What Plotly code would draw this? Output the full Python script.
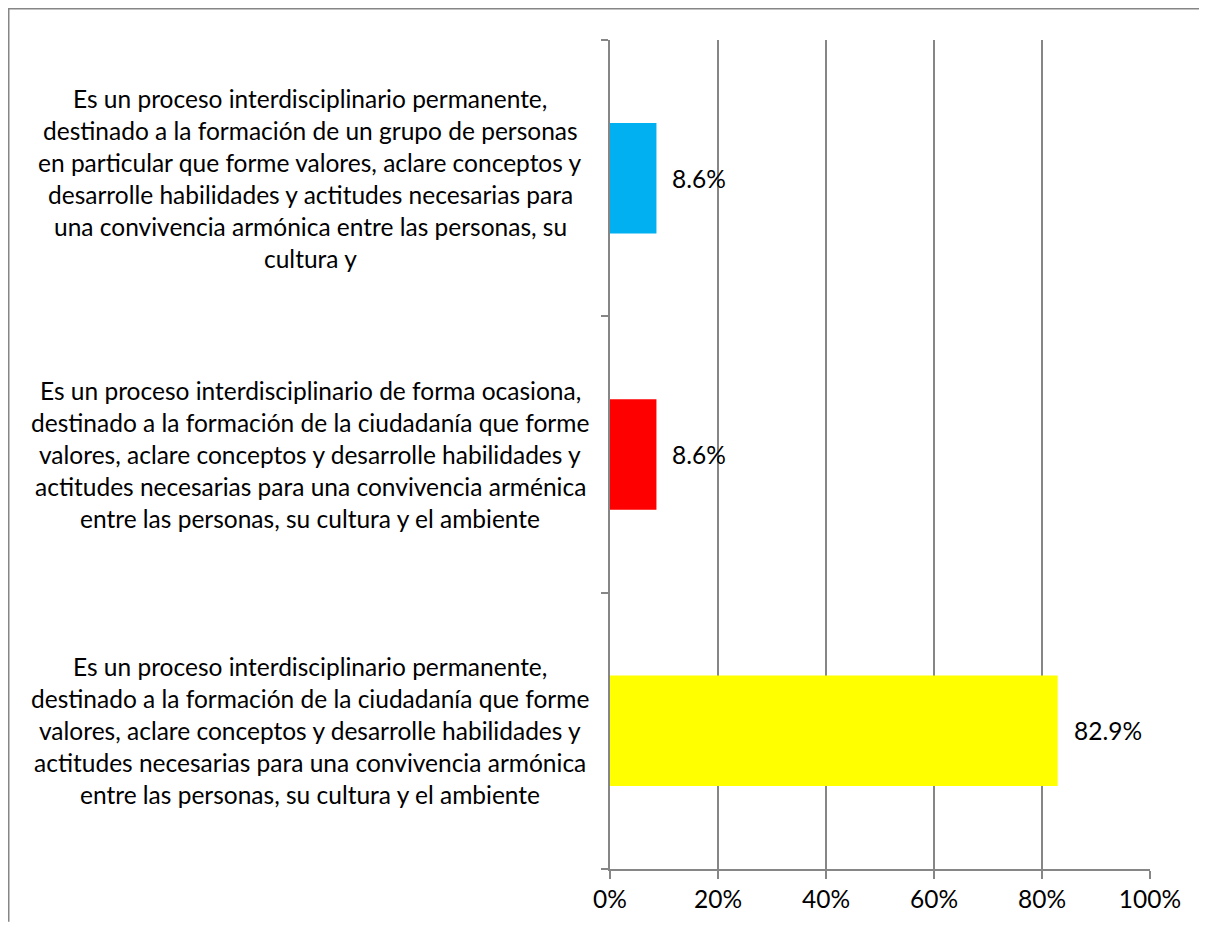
import plotly.graph_objects as go

# bottom to top, as plotly draws categories
categories = ["permanente_ciudadania", "ocasional_ciudadania", "permanente_grupo"]
values = [82.9, 8.6, 8.6]
bar_colors = ["#FFFF00", "#FF0000", "#00B0F0"]
label_lines = [
    ["Es un proceso interdisciplinario permanente,",
     "destinado a la formación de la ciudadanía que forme",
     "valores, aclare conceptos y desarrolle habilidades y",
     "actitudes necesarias para una convivencia armónica",
     "entre las personas, su cultura y el ambiente"],
    ["Es un proceso interdisciplinario de forma ocasiona,",
     "destinado a la formación de la ciudadanía que forme",
     "valores, aclare conceptos y desarrolle habilidades y",
     "actitudes necesarias para una convivencia arménica",
     "entre las personas, su cultura y el ambiente"],
    ["Es un proceso interdisciplinario permanente,",
     "destinado a la formación de un grupo de personas",
     "en particular que forme valores, aclare conceptos y",
     "desarrolle habilidades y actitudes necesarias para",
     "una convivencia armónica entre las personas, su",
     "cultura y"],
]
x_ticks = [0, 20, 40, 60, 80, 100]
x_ticklabels = ["0%", "20%", "40%", "60%", "80%", "100%"]

FONT = "Lato"
FS = 24.5
# the page body adds an 8px margin, so the figure is 8px smaller
W, H = 1199, 917
L, R, T, B = 602, 57, 32, 53
GRAY = "#868686"

fig = go.Figure()
fig.add_trace(go.Bar(
    y=categories, x=values, orientation="h",
    marker=dict(color=bar_colors, line_width=0),
    width=0.4, hoverinfo="skip",
))

annotations = []
for cat, v in zip(categories, values):
    annotations.append(dict(
        x=v, y=cat, xref="x", yref="y", text=f"{v:.1f}%",
        showarrow=False, xanchor="left", xshift=14,
        font=dict(family=FONT, size=FS, color="black"),
    ))

line_h = 32
label_center = 302  # pixel x of the label block centre (figure coords)
for cat, lines in zip(categories, label_lines):
    n = len(lines)
    for i, ln in enumerate(lines):
        annotations.append(dict(
            x=(label_center - L) / (W - L - R), y=cat, xref="paper", yref="y",
            text=ln, showarrow=False, xanchor="center", yanchor="middle",
            yshift=((n - 1) / 2 - i) * line_h,
            font=dict(family=FONT, size=FS, color="black"),
        ))

pw, ph = W - L - R, H - T - B
px = lambda p: (p - L) / pw
py = lambda p: (H - B - p) / ph
border = dict(color=GRAY, width=1.5)
shapes = [
    dict(type="line", xref="paper", yref="paper", x0=px(0.75), x1=px(0.75), y0=py(0), y1=py(H), line=border),
    dict(type="line", xref="paper", yref="paper", x0=px(0), x1=px(W), y0=py(0.75), y1=py(0.75), line=border),
]

fig.update_layout(
    width=W, height=H,
    margin=dict(l=L, r=R, t=T, b=B),
    paper_bgcolor="white", plot_bgcolor="white",
    showlegend=False,
    font=dict(family=FONT, size=FS, color="black"),
    annotations=annotations,
    shapes=shapes,
    xaxis=dict(
        range=[0, 100], tickvals=x_ticks, ticktext=x_ticklabels,
        showgrid=True, gridcolor=GRAY, gridwidth=1.5,
        showline=True, linecolor=GRAY, linewidth=1.5,
        ticks="outside", ticklen=8, tickcolor=GRAY, tickwidth=1.5,
        zeroline=False, fixedrange=True,
    ),
    yaxis=dict(
        categoryorder="array", categoryarray=categories,
        showticklabels=False, showgrid=False,
        showline=True, linecolor=GRAY, linewidth=1.5,
        ticks="outside", ticklen=7, tickcolor=GRAY, tickwidth=1.5,
        tickson="boundaries", zeroline=False, fixedrange=True,
    ),
)

fig.write_html("out.html")
